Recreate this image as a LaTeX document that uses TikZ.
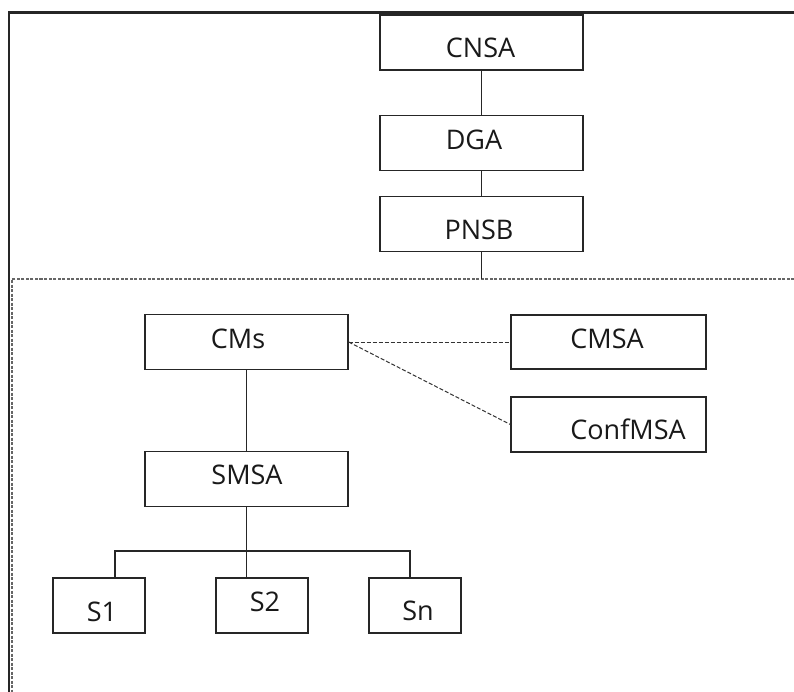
\documentclass[tikz,border=0pt]{standalone}
\usepackage{fontspec}
\setmainfont{Open Sans}
\begin{document}
\begin{tikzpicture}[x=1pt,y=-1pt,
  box/.style={draw=black!85, line width=1.3pt, rectangle, inner sep=0pt, fill=white},
  wide/.style={box, minimum width=203pt, minimum height=55pt},
  unit/.style={box, minimum width=92pt, minimum height=55pt},
  lbl/.style={inner sep=0pt, text height=19.3pt, text depth=0pt, font=\fontsize{27}{30}\selectfont, text=black!90},
  link/.style={draw=black!85, line width=1.2pt},
  dlink/.style={draw=black!80, line width=1pt, dash pattern=on 4pt off 2pt},
  frame/.style={draw=black!85, line width=2.2pt},
  region/.style={draw=black!60, line width=1.1pt, dash pattern=on 3pt off 1.5pt}]
\useasboundingbox (0,0) rectangle (794,692);

% outer frame (top and left edges)
\coordinate (fr-tl) at (9,12.5);
\coordinate (fr-tr) at (794,12.5);
\coordinate (fr-bl) at (9,692);
\draw[frame] (fr-tr) -- (fr-tl) -- (fr-bl);

% dashed region (top and left edges)
\coordinate (rg-tl) at (12,279);
\coordinate (rg-tr) at (794,279);
\coordinate (rg-bl) at (12,692);
\draw[region] (rg-tr) -- (rg-tl) -- (rg-bl);

% upper chain
\node[wide] (cnsa) at (481.5,42.5) {};
\node[wide] (dga)  at (481.5,143) {};
\node[wide] (pnsb) at (481.5,224) {};
\node[lbl] (cnsa-t) at (480.5,48) {CNSA};
\node[lbl] (dga-t)  at (474,140) {DGA};
\node[lbl] (pnsb-t) at (479,230) {PNSB};
\draw[link] (cnsa.south) -- (dga.north);
\draw[link] (dga.south) -- (pnsb.south |- dga.south) -- (pnsb.north);
\coordinate (pnsb-end) at (pnsb.south |- rg-tl);
\draw[link] (pnsb.south) -- (pnsb-end);

% lower hierarchy
\node[wide] (cms)     at (246.5,342) {};
\node[wide] (smsa)    at (246.5,479) {};
\node[box, minimum width=195pt, minimum height=54pt] (cmsa)    at (608.5,342) {};
\node[box, minimum width=195pt, minimum height=55pt] (confmsa) at (608.5,424.5) {};
\node[lbl] (cms-t)     at (238,339) {CMs};
\node[lbl] (smsa-t)    at (247,475) {SMSA};
\node[lbl] (cmsa-t)    at (607,339) {CMSA};
\node[lbl] (confmsa-t) at (628,430) {ConfMSA};

\draw[link] (cms.south) -- (smsa.north);
\draw[dlink] (cms.east) -- (cmsa.west);
\draw[dlink] (cms.east) -- (confmsa.west);

% sites
\node[unit] (s1) at (99,605.5) {};
\node[unit] (s2) at (262,605.5) {};
\node[unit] (sn) at (415,605.5) {};
\node[lbl] (s1-t) at (102,611.5) {S1};
\node[lbl] (s2-t) at (265,602) {S2};
\node[lbl] (sn-t) at (418,611) {Sn};

\coordinate (bus) at (246.5,551);
\draw[link] (smsa.south) -- (bus);
\draw[link] ([xshift=16pt]s1.north) |- (bus) -| ([xshift=-5pt]sn.north);
\draw[link] (s2.north -| bus) -- (bus);
\end{tikzpicture}
\end{document}
